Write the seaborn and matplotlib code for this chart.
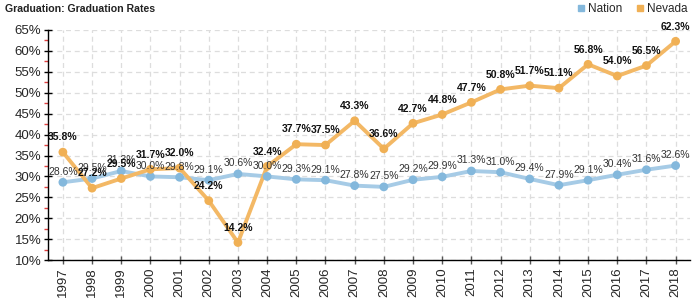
import matplotlib
matplotlib.use("Agg")
import matplotlib.pyplot as plt
import seaborn as sns
import pandas as pd
from matplotlib.ticker import MultipleLocator, FuncFormatter
from matplotlib.lines import Line2D

years = list(range(1997, 2019))
nation = [28.6, 29.5, 31.3, 30.0, 29.8, 29.1, 30.6, 30.0, 29.3, 29.1, 27.8,
          27.5, 29.2, 29.9, 31.3, 31.0, 29.4, 27.9, 29.1, 30.4, 31.6, 32.6]
nevada = [35.8, 27.2, 29.5, 31.7, 32.0, 24.2, 14.2, 32.4, 37.7, 37.5, 43.3,
          36.6, 42.7, 44.8, 47.7, 50.8, 51.7, 51.1, 56.8, 54.0, 56.5, 62.3]
series_names = ["Nation", "Nevada"]
line_colors = {"Nation": "#a6cbe6", "Nevada": "#f3b865"}
marker_colors = {"Nation": "#84b8dc", "Nevada": "#f0b055"}

sns.set_style("white")
plt.rcParams["font.family"] = ["Liberation Sans", "DejaVu Sans"]

df = pd.DataFrame({
    "pos": list(range(len(years))) * 2,
    "value": nation + nevada,
    "series": ["Nation"] * len(years) + ["Nevada"] * len(years),
})

fig = plt.figure(figsize=(7, 3), dpi=100)
ax = fig.add_axes([0.069, 0.133, 0.917, 0.767])

sns.lineplot(data=df, x="pos", y="value", hue="series", palette=line_colors,
             linewidth=2.8, ax=ax, legend=False, zorder=3)
sns.scatterplot(data=df, x="pos", y="value", hue="series", palette=marker_colors,
                s=40, linewidth=0, ax=ax, legend=False, zorder=4)

ax.set_xlim(-0.5, len(years) - 0.5)
ax.set_ylim(10, 65)
ax.set_xticks(range(len(years)))
ax.set_xticklabels([str(y) for y in years], rotation=90, fontsize=9.5)
ax.yaxis.set_major_locator(MultipleLocator(5))
ax.yaxis.set_minor_locator(MultipleLocator(2.5))
ax.yaxis.set_major_formatter(FuncFormatter(lambda v, p: f"{v:.0f}%"))
ax.tick_params(axis="y", which="major", labelsize=9.5, direction="inout",
               length=6, width=1, color="black", pad=2, left=True)
ax.tick_params(axis="y", which="minor", direction="out", length=3,
               width=1, color="#e04040", left=True)
ax.tick_params(axis="x", which="major", direction="inout", length=6,
               width=1, color="#555555", pad=2, bottom=True)
ax.set_xlabel("")
ax.set_ylabel("")
ax.grid(True, which="major", linestyle=(0, (4, 3)), color="#dddddd", linewidth=0.9)
for s in ["top", "right"]:
    ax.spines[s].set_visible(False)
for s in ["left", "bottom"]:
    ax.spines[s].set_color("black")
    ax.spines[s].set_linewidth(1)

for i, v in enumerate(nation):
    ax.annotate(f"{v:.1f}%", (i, v), xytext=(0, 4), textcoords="offset points",
                ha="center", va="bottom", fontsize=7.5, color="#333333", zorder=5)
for i, v in enumerate(nevada):
    ax.annotate(f"{v:.1f}%", (i, v), xytext=(0, 7), textcoords="offset points",
                ha="center", va="bottom", fontsize=7.5, fontweight="bold",
                color="#111111", zorder=5)

fig.text(0.007, 0.97, "Graduation: Graduation Rates", fontsize=7.6,
         fontweight="bold", ha="left", va="center", color="#222222")

handles = [Line2D([], [], marker="s", linestyle="", color=marker_colors[n], markersize=5)
           for n in series_names]
fig.legend(handles, series_names, loc="center right", bbox_to_anchor=(0.997, 0.97),
           ncol=2, frameon=False, fontsize=8.5, handletextpad=0.1,
           columnspacing=1.0, handlelength=1.0)

fig.savefig("out.png", dpi=100)
